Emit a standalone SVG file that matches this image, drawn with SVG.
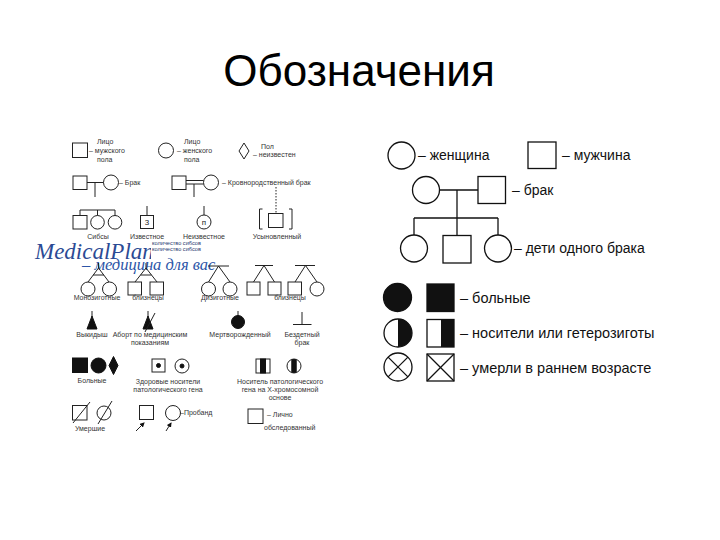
<svg xmlns="http://www.w3.org/2000/svg" width="720" height="540" viewBox="0 0 720 540">
<defs>
<style>
.s{fill:none;stroke:#222;stroke-width:1}
.f{fill:#111;stroke:#111;stroke-width:1}
.r{fill:none;stroke:#111;stroke-width:1.3}
.rf{fill:#111;stroke:#111;stroke-width:1.3}
.t{font-family:"Liberation Sans",Arial,sans-serif;font-size:7px;fill:#333}
.tc{font-family:"Liberation Sans",Arial,sans-serif;font-size:7px;fill:#333;text-anchor:middle}
.tr{font-family:"Liberation Sans",Arial,sans-serif;font-size:14.5px;fill:#111}
</style>
<marker id="ar" viewBox="0 0 10 10" refX="8" refY="5" markerWidth="5" markerHeight="5" orient="auto">
<path d="M0,0 L10,5 L0,10 Z" fill="#111"/>
</marker>
<clipPath id="wm"><rect x="0" y="230" width="151" height="40"/></clipPath>
<clipPath id="cc"><circle cx="294" cy="366" r="7"/></clipPath>
</defs>
<rect width="720" height="540" fill="#fff"/>
<text x="359" y="86" text-anchor="middle" font-family="Liberation Sans, Arial, sans-serif" font-size="44" fill="#000">Обозначения</text>

<!-- LEFT PANEL -->
<g id="male">
<rect class="s" x="72.5" y="143" width="15" height="14.5"/>
<text class="t" x="97" y="144">Лицо</text>
<text class="t" x="89" y="153">– мужского</text>
<text class="t" x="97" y="162">пола</text>
</g>
<g id="female">
<circle class="s" cx="166" cy="150.5" r="7.5"/>
<text class="t" x="184" y="144">Лицо</text>
<text class="t" x="177" y="153">– женского</text>
<text class="t" x="184" y="162">пола</text>
</g>
<g id="unknown-sex">
<polygon class="s" points="244,143 249,151 244,159 239,151"/>
<text class="t" x="261" y="149">Пол</text>
<text class="t" x="253" y="157">– неизвестен</text>
</g>
<g id="marriage">
<rect class="s" x="73" y="176" width="14" height="13.5"/>
<line class="s" x1="87" y1="182.5" x2="103.5" y2="182.5"/>
<line class="s" x1="95" y1="182.5" x2="95" y2="197"/>
<circle class="s" cx="111" cy="182.5" r="7.5"/>
<text class="t" x="119" y="185">– Брак</text>
</g>
<g id="consanguineous">
<rect class="s" x="172" y="176" width="14" height="13.5"/>
<line class="s" x1="186" y1="180.5" x2="203.5" y2="180.5"/>
<line class="s" x1="186" y1="184" x2="203.5" y2="184"/>
<line class="s" x1="194" y1="184" x2="194" y2="197"/>
<circle class="s" cx="211" cy="182.5" r="7.5"/>
<text class="t" x="222" y="185">– Кровнородственный брак</text>
</g>

<g id="watermark">
<text x="35" y="259" clip-path="url(#wm)" font-family="Liberation Serif, Times New Roman, serif" font-style="italic" font-size="23" fill="#2b4a94">MedicalPlanet.su</text>
<text x="82" y="270" font-family="Liberation Serif, Times New Roman, serif" font-style="italic" font-size="16.5" fill="#2c55a8">– медицина для вас</text>
</g>

<g id="sibs">
<polyline class="s" points="80,215.5 80,210 115,210 115,215.5"/>
<line class="s" x1="97.5" y1="210" x2="97.5" y2="215.5"/>
<rect class="s" x="73" y="215.5" width="14" height="13.5"/>
<circle class="s" cx="97.5" cy="222.3" r="6.8"/>
<circle class="s" cx="115" cy="222.3" r="6.8"/>
<text class="tc" x="98" y="239">Сибсы</text>
</g>
<g id="known-number">
<line class="s" x1="147" y1="206" x2="147" y2="215.5"/>
<rect class="s" x="140.5" y="215.5" width="13" height="13"/>
<text class="tc" x="147" y="225" style="font-size:8px;fill:#222">3</text>
<text class="tc" x="147" y="239">Известное</text>
</g>
<g id="unknown-number">
<line class="s" x1="204" y1="206" x2="204" y2="215"/>
<circle class="s" cx="204" cy="222" r="7"/>
<text class="tc" x="204" y="225" style="font-size:8px;fill:#222">п</text>
<text class="tc" x="204" y="239">Неизвестное</text>
<text class="t" x="152" y="244.5" style="font-size:5.6px;fill:#2a3a70">количество сибсов</text>
<text class="t" x="152" y="250.5" style="font-size:5.6px;fill:#2a3a70">количество сибсов</text>
</g>
<g id="adopted">
<line class="s" x1="276" y1="187" x2="276" y2="213" stroke-dasharray="1.5,1.5"/>
<path class="s" d="M262.5,209 H259.5 V229 H262.5"/>
<path class="s" d="M289,209 H292 V229 H289"/>
<rect class="s" x="268.5" y="213.5" width="14.5" height="14"/>
<text class="tc" x="277" y="239">Усыновленный</text>
</g>

<g id="mz-twins-f">
<line class="s" x1="98.5" y1="263" x2="98.5" y2="268"/>
<polyline class="s" points="88,282 98.5,268 109,282"/>
<line class="s" x1="93" y1="275" x2="104" y2="275"/>
<circle class="s" cx="88" cy="289" r="7"/>
<circle class="s" cx="109.5" cy="289" r="7"/>
<text class="tc" x="97" y="300">Монозиготные</text>
</g>
<g id="mz-twins-m">
<line class="s" x1="146" y1="263" x2="146" y2="268"/>
<polyline class="s" points="135,282 146,268 157,282"/>
<line class="s" x1="140.5" y1="275" x2="151.5" y2="275"/>
<rect class="s" x="128" y="282" width="13.5" height="13"/>
<rect class="s" x="150" y="282" width="13.5" height="13"/>
<text class="tc" x="148" y="300">близнецы</text>
</g>
<g id="dz-twins-f">
<line class="s" x1="208" y1="266" x2="229" y2="266"/>
<polyline class="s" points="208.5,282 218.5,266 230,282"/>
<circle class="s" cx="208.5" cy="289" r="7"/>
<circle class="s" cx="230" cy="289" r="7"/>
<text class="tc" x="220" y="300">Дизиготные</text>
</g>
<g id="dz-twins-m">
<line class="s" x1="255" y1="265.5" x2="273" y2="265.5"/>
<polyline class="s" points="253.5,282 264,265.5 274.5,282"/>
<rect class="s" x="247" y="282" width="13" height="13"/>
<rect class="s" x="268" y="282" width="13" height="13"/>
</g>
<g id="dz-twins-mixed">
<line class="s" x1="295" y1="265.5" x2="315" y2="265.5"/>
<polyline class="s" points="295,282 305.5,265.5 317,282"/>
<rect class="s" x="288" y="282" width="13.5" height="13"/>
<circle class="s" cx="317" cy="289" r="7"/>
<text class="tc" x="290" y="300">близнецы</text>
</g>

<g id="miscarriage">
<line class="s" x1="92" y1="311" x2="92" y2="317"/>
<polygon class="f" points="92,316 87,329 97,329"/>
<text class="tc" x="92" y="337">Выкидыш</text>
</g>
<g id="abortion">
<line class="s" x1="148" y1="311" x2="148" y2="317"/>
<polygon class="f" points="148,316 143,329 153,329"/>
<line class="s" x1="145" y1="332" x2="155" y2="313"/>
<text class="tc" x="150" y="337">Аборт по медицинским</text>
<text class="tc" x="150" y="345">показаниям</text>
</g>
<g id="stillborn">
<line class="s" x1="238" y1="311" x2="238" y2="316"/>
<circle class="f" cx="238" cy="322" r="6.5"/>
<text class="tc" x="240" y="337">Мертворожденный</text>
</g>
<g id="childless">
<line class="s" x1="302" y1="312" x2="302" y2="324"/>
<line class="s" x1="293" y1="324.5" x2="311.5" y2="324.5"/>
<text class="tc" x="302" y="337">Бездетный</text>
<text class="tc" x="302" y="345">брак</text>
</g>

<g id="affected">
<rect class="f" x="72.5" y="358" width="15" height="14.5"/>
<circle class="f" cx="98.5" cy="365.5" r="7.5"/>
<polygon class="f" points="113.5,356.5 118,365.5 113.5,374.5 109,365.5"/>
<text class="tc" x="92" y="383">Больные</text>
</g>
<g id="carriers">
<rect class="s" x="152" y="359" width="13" height="13"/>
<circle class="f" cx="158.5" cy="365.5" r="2"/>
<circle class="s" cx="182" cy="366" r="7"/>
<circle class="f" cx="182" cy="366" r="2"/>
<text class="tc" x="168" y="384">Здоровые носители</text>
<text class="tc" x="168" y="392">патологического гена</text>
</g>
<g id="x-carriers">
<rect class="s" x="256" y="359" width="14" height="14"/>
<rect class="f" x="260.5" y="359" width="5" height="14"/>
<circle class="s" cx="294" cy="366" r="7"/>
<rect class="f" x="291.8" y="358" width="4.4" height="16" clip-path="url(#cc)"/>
<text class="tc" x="280" y="384">Носитель патологического</text>
<text class="tc" x="280" y="392">гена на Х-хромосомной</text>
<text class="tc" x="280" y="400">основе</text>
</g>

<g id="deceased">
<rect class="s" x="72.5" y="405.5" width="14.5" height="14.5"/>
<line class="s" x1="73" y1="423" x2="90" y2="402"/>
<circle class="s" cx="104" cy="413" r="7"/>
<line class="s" x1="98" y1="424" x2="112" y2="401"/>
<text class="tc" x="90" y="431">Умершие</text>
</g>
<g id="proband">
<rect class="s" x="139.5" y="405.5" width="14" height="14"/>
<line class="s" x1="136" y1="431" x2="144" y2="423" marker-end="url(#ar)"/>
<circle class="s" cx="173" cy="413" r="7.5"/>
<line class="s" x1="166" y1="431" x2="171" y2="423" marker-end="url(#ar)"/>
<text class="t" x="180" y="415">–Пробанд</text>
</g>
<g id="examined">
<rect class="s" x="248" y="409" width="15" height="14.5"/>
<text class="t" x="267" y="417">– Лично</text>
<text class="t" x="264" y="430">обследованный</text>
</g>

<!-- RIGHT PANEL -->
<g id="woman">
<circle class="r" cx="401.5" cy="155.5" r="13.5"/>
<text class="tr" x="418" y="160" style="font-size:14px">– женщина</text>
</g>
<g id="man">
<rect class="r" x="528" y="142" width="28" height="26.5"/>
<text class="tr" x="562" y="160" style="font-size:14px">– мужчина</text>
</g>
<g id="marriage-r">
<circle class="r" cx="426" cy="190" r="13.5"/>
<rect class="r" x="478" y="176.5" width="27.5" height="27"/>
<text class="tr" x="512" y="195" style="font-size:14px">– брак</text>
</g>
<g id="child1"><circle class="r" cx="414" cy="248.5" r="13.5"/></g>
<g id="child2"><rect class="r" x="443" y="235.5" width="28" height="27.5"/></g>
<g id="child3">
<circle class="r" cx="498" cy="248.5" r="13.5"/>
<text class="tr" x="514" y="253" style="font-size:14px">– дети одного брака</text>
</g>
<g id="connectors">
<line class="r" x1="439.5" y1="190" x2="478" y2="190"/>
<line class="r" x1="457" y1="190" x2="457" y2="218"/>
<line class="r" x1="414" y1="218" x2="498" y2="218"/>
<line class="r" x1="414" y1="218" x2="414" y2="235"/>
<line class="r" x1="457" y1="218" x2="457" y2="235.5"/>
<line class="r" x1="498" y1="218" x2="498" y2="235"/>
</g>
<g id="affected-r">
<circle class="rf" cx="397.5" cy="297.5" r="14"/>
<rect class="rf" x="427" y="284" width="27" height="27.5"/>
<text class="tr" x="460" y="303">– больные</text>
</g>
<g id="carriers-r">
<circle class="r" cx="398" cy="333" r="14"/>
<path d="M398,319 A14,14 0 0 1 398,347 Z" fill="#111"/>
<rect class="r" x="427" y="319.5" width="27" height="27.5"/>
<rect x="441" y="319.5" width="13" height="27.5" fill="#111"/>
<text class="tr" x="460" y="338">– носители или гетерозиготы</text>
</g>
<g id="died-r">
<circle class="r" cx="398" cy="367" r="14"/>
<line class="r" x1="388.1" y1="357.1" x2="407.9" y2="376.9"/>
<line class="r" x1="388.1" y1="376.9" x2="407.9" y2="357.1"/>
<rect class="r" x="427" y="354" width="27" height="27"/>
<line class="r" x1="427" y1="354" x2="454" y2="381"/>
<line class="r" x1="427" y1="381" x2="454" y2="354"/>
<text class="tr" x="460" y="373">– умерли в раннем возрасте</text>
</g>
</svg>
